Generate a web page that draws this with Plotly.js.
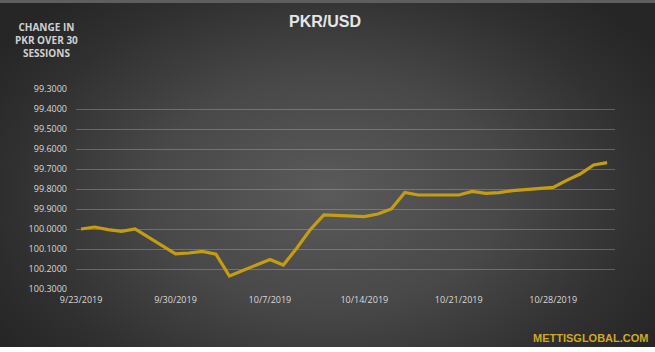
<!DOCTYPE html>
<html>
<head>
<meta charset="utf-8">
<script src="https://cdn.plot.ly/plotly-3.0.1.min.js"></script>
<style>
  html, body { margin: 0; padding: 0; background: #ffffff; }
  #wrap {
    position: absolute; left: 0; top: 0; width: 655px; height: 347px;
    background: radial-gradient(ellipse 60% 75% at 50% 55%, #5a5a5a 0%, #484848 45%, #303030 80%, #262626 100%);
    border-top: 3px solid #5e5e5e;
    box-sizing: border-box;
  }
  #chart { position: absolute; left: 0; top: 0; width: 655px; height: 352px; }
</style>
</head>
<body>
<div id="wrap"></div>
<div id="chart"></div>
<script>
const dates = [
  '2019-09-23','2019-09-24','2019-09-25','2019-09-26','2019-09-27',
  '2019-09-30','2019-10-01','2019-10-02','2019-10-03','2019-10-04',
  '2019-10-07','2019-10-08','2019-10-09','2019-10-10','2019-10-11',
  '2019-10-14','2019-10-15','2019-10-16','2019-10-17','2019-10-18',
  '2019-10-21','2019-10-22','2019-10-23','2019-10-24','2019-10-25',
  '2019-10-28','2019-10-29','2019-10-30','2019-10-31','2019-11-01'
];
const pkrUsd = [
  100.000, 99.990, 100.003, 100.012, 100.000,
  100.124, 100.120, 100.112, 100.126, 100.235,
  100.152, 100.180, 100.095, 100.003, 99.930,
  99.938, 99.925, 99.900, 99.817, 99.830,
  99.830, 99.812, 99.822, 99.818, 99.808,
  99.792, 99.757, 99.725, 99.680, 99.668
];
const tickDates = ['2019-09-23','2019-09-30','2019-10-07','2019-10-14','2019-10-21','2019-10-28'];
const tickLabels = ['9/23/2019','9/30/2019','10/7/2019','10/14/2019','10/21/2019','10/28/2019'];
const yTicks = [99.3, 99.4, 99.5, 99.6, 99.7, 99.8, 99.9, 100.0, 100.1, 100.2, 100.3];

const trace = {
  x: dates, y: pkrUsd, type: 'scatter', mode: 'lines',
  line: { color: '#c59d12', width: 3.2 },
  hoverinfo: 'skip'
};

const tickFont = { family: 'Open Sans, Liberation Sans, sans-serif', size: 9, color: '#d9d9d9' };

const layout = {
  width: 655, height: 352,
  margin: { l: 76, r: 40, t: 89, b: 63 },
  paper_bgcolor: 'rgba(0,0,0,0)',
  plot_bgcolor: 'rgba(0,0,0,0)',
  showlegend: false,
  title: {
    text: '<b>PKR/USD</b>',
    font: { family: 'Liberation Sans, Arial, sans-serif', size: 16, color: '#e6e6e6' },
    x: 325 / 655, xanchor: 'center', xref: 'container',
    y: 1 - 21 / 352, yanchor: 'middle', yref: 'container'
  },
  xaxis: {
    type: 'date',
    range: ['2019-09-22 15:00', '2019-11-01 14:00'],
    tickmode: 'array', tickvals: tickDates, ticktext: tickLabels,
    showgrid: false, zeroline: false, showline: false,
    ticks: '', tickfont: tickFont, ticklabelstandoff: 4
  },
  yaxis: {
    range: [100.3, 99.3],
    tickmode: 'array', tickvals: yTicks, tickformat: '.4f',
    showgrid: true, gridcolor: 'rgba(190,190,190,0.35)', gridwidth: 1,
    zeroline: false, showline: false, ticks: '',
    tickfont: tickFont, ticklabelstandoff: 8
  },
  annotations: [
    {
      text: '<b>CHANGE IN<br>PKR OVER 30<br>SESSIONS</b>',
      xref: 'paper', yref: 'paper',
      x: (46 - 76) / 539, y: (289 - 40) / 200,
      xanchor: 'center', yanchor: 'middle', showarrow: false, align: 'center',
      font: { family: 'Open Sans, Liberation Sans, sans-serif', size: 10, color: '#d0d0d0' }
    },
    {
      text: '<b>METTISGLOBAL.COM</b>',
      xref: 'paper', yref: 'paper',
      x: (651 - 76) / 539, y: (289 - 338) / 200,
      xanchor: 'right', yanchor: 'middle', showarrow: false,
      font: { family: 'Liberation Sans Narrow, Liberation Sans, Arial, sans-serif', size: 11, color: '#d1a826' }
    }
  ]
};

Plotly.newPlot('chart', [trace], layout, { displayModeBar: false, staticPlot: true });
</script>
</body>
</html>
